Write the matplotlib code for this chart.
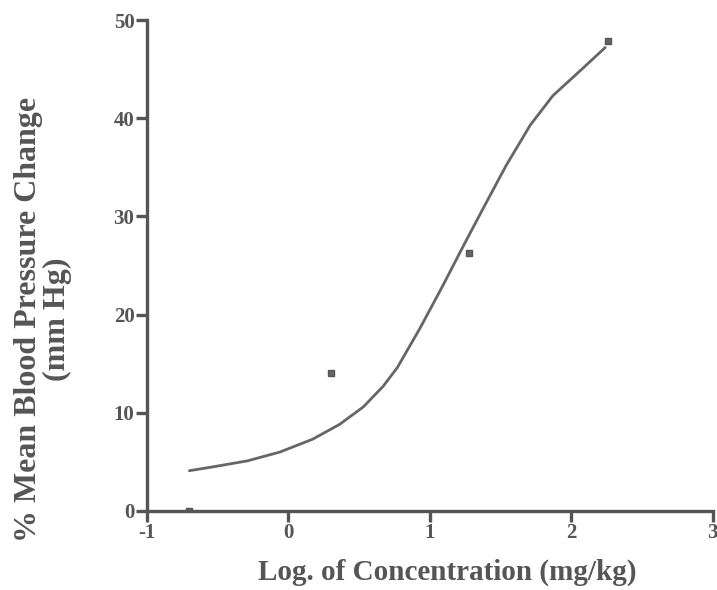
import matplotlib
matplotlib.use("Agg")
import matplotlib.pyplot as plt

# Observed data points
log_conc = [-0.70, 0.30, 1.28, 2.26]
bp_change = [0.0, 14.0, 26.3, 47.9]

# Fitted curve
curve_x = [-0.70, -0.53, -0.29, -0.06, 0.17, 0.36, 0.53, 0.67, 0.77, 0.93,
           1.09, 1.23, 1.38, 1.54, 1.71, 1.87, 2.06, 2.24]
curve_y = [4.1, 4.5, 5.1, 6.0, 7.3, 8.8, 10.6, 12.7, 14.6, 18.6,
           22.9, 26.8, 30.9, 35.2, 39.3, 42.3, 44.8, 47.2]

xticks = [-1, 0, 1, 2, 3]
yticks = [0, 10, 20, 30, 40, 50]

plt.rcParams['font.family'] = ['Liberation Serif', 'DejaVu Serif']
plt.rcParams['font.weight'] = 'bold'

ink = '#555555'
fig = plt.figure(figsize=(7.17, 5.90), dpi=100)
ax = fig.add_axes([0.205, 0.134, 0.789, 0.832])

ax.plot(curve_x, curve_y, color='#666666', lw=2.0, solid_joinstyle='round', solid_capstyle='round')
ax.plot(log_conc, bp_change, 's', color='#666666', ms=5, mec='#555555')

ax.set_xlim(-1, 3)
ax.set_ylim(0, 50)
ax.set_xticks(xticks)
ax.set_yticks(yticks)
ax.set_xticklabels([str(t) for t in xticks])
ax.set_yticklabels([str(t) for t in yticks])
for s in ['top', 'right']:
    ax.spines[s].set_visible(False)
for s in ['left', 'bottom']:
    ax.spines[s].set_color(ink)
    ax.spines[s].set_linewidth(2.4)
ax.tick_params(axis='both', colors=ink, width=2.4, length=8, labelsize=15, direction='out')
ax.tick_params(axis='x', pad=1)
ax.tick_params(axis='y', pad=1)
for lab in ax.get_xticklabels() + ax.get_yticklabels():
    lab.set_fontweight('bold')

ax.set_xlabel('Log. of Concentration (mg/kg)', fontsize=21, fontweight='bold', color=ink)
ax.xaxis.set_label_coords(0.53, -0.098)
ax.set_ylabel('% Mean Blood Pressure Change\n(mm Hg)', fontsize=23, fontweight='bold', color=ink,
              linespacing=1.0)
ax.yaxis.set_label_coords(-0.133, 0.39)

fig.savefig('out.png', dpi=100, facecolor='white')
